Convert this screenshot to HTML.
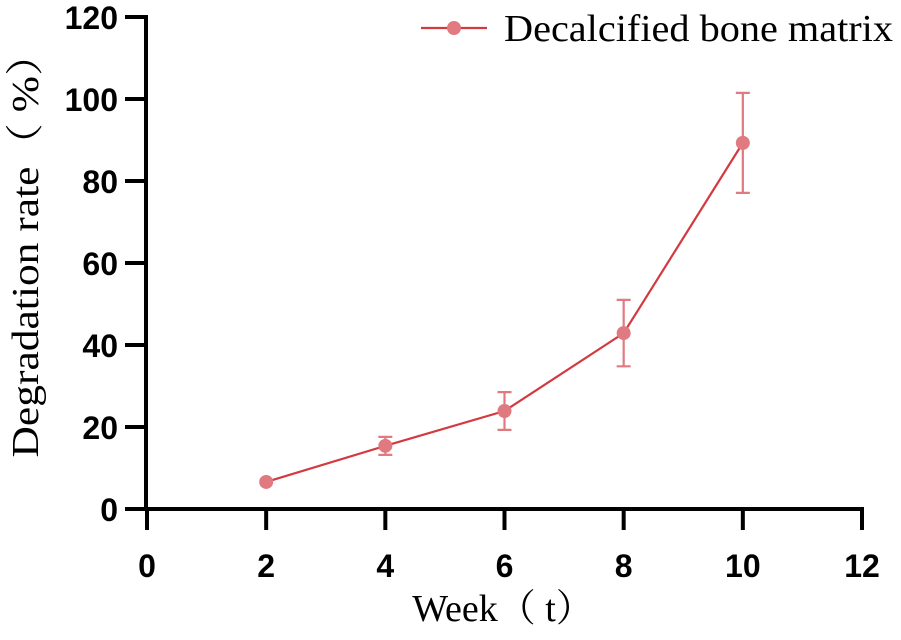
<!DOCTYPE html>
<html><head><meta charset="utf-8"><style>
html,body{margin:0;padding:0;background:#fff;}
svg{display:block;}
.tick{font-family:"Liberation Sans",Arial,sans-serif;font-weight:bold;font-size:32px;fill:#000;}
.title{font-family:"Liberation Serif","Noto Serif CJK SC",serif;font-size:38px;fill:#000;}
</style></head><body>
<svg id="chart" width="901" height="640"></svg>
<script>
const weeks=[2,4,6,8,10];
const rates=[6.6,15.4,23.9,42.9,89.3];
const errors=[0,2.2,4.6,8.1,12.2];
const xTicks=[0,2,4,6,8,10,12];
const yTicks=[0,20,40,60,80,100,120];
const NS="http://www.w3.org/2000/svg";
const svg=document.getElementById('chart');
const x0=147,x1=862,y0=509,y1=17;
function sx(v){return x0+(v-0)/(12-0)*(x1-x0);}
function sy(v){return y0-(v-0)/(120-0)*(y0-y1);}
function mk(tag,attrs,parent){const e=document.createElementNS(NS,tag);for(const k in attrs)e.setAttribute(k,attrs[k]);(parent||svg).appendChild(e);return e;}
let e;
e=mk('line',{x1:x0-1,y1:y1-2,x2:x0-1,y2:y0+2,stroke:'#000','stroke-width':4});


e=mk('line',{x1:x0-3,y1:y0,x2:x1+2,y2:y0,stroke:'#000','stroke-width':4});


yTicks.forEach(v=>{
 const t=mk('line',{x1:x0-22,y1:sy(v),x2:x0,y2:sy(v),stroke:'#000','stroke-width':4});
 
 
 const l=mk('text',{x:x0-29,y:sy(v)+12,'text-anchor':'end',class:'tick'});l.textContent=v;
 
 
});
xTicks.forEach(v=>{
 const t=mk('line',{x1:sx(v),y1:y0,x2:sx(v),y2:y0+21,stroke:'#000','stroke-width':4});
 
 
 const l=mk('text',{x:sx(v),y:y0+68,'text-anchor':'middle',class:'tick'});l.textContent=v;
 
 
});
const line=mk('polyline',{points:weeks.map((w,i)=>sx(w)+','+sy(rates[i])).join(' '),fill:'none',stroke:'#d23a40','stroke-width':2.2});


weeks.forEach((w,i)=>{
 if(errors[i]>0){
  const cx=sx(w),t=sy(rates[i]+errors[i]),b=sy(rates[i]-errors[i]);
  const g=mk('path',{d:`M${cx},${t}V${b}M${cx-7},${t}H${cx+7}M${cx-7},${b}H${cx+7}`,stroke:'#e07a80','stroke-width':2.2,fill:'none'});
  
  
 }
 const c=mk('circle',{cx:sx(w),cy:sy(rates[i]),r:7,fill:'#e07a80'});
 
 
});
e=mk('line',{x1:421,y1:28,x2:487,y2:28,stroke:'#d23a40','stroke-width':2.2});


e=mk('circle',{cx:454,cy:28,r:7,fill:'#e07a80'});


e=mk('text',{x:504,y:41,class:'title',textLength:389,lengthAdjust:'spacingAndGlyphs'});e.textContent='Decalcified bone matrix';


e=mk('text',{x:503,y:621,'text-anchor':'middle',class:'title'});e.textContent='Week（ t）';


e=mk('text',{x:0,y:0,'text-anchor':'middle',class:'title',transform:'translate(38,245) rotate(-90)',textLength:425,lengthAdjust:'spacingAndGlyphs'});e.textContent='Degradation rate（ %）';


</script>
</body></html>
